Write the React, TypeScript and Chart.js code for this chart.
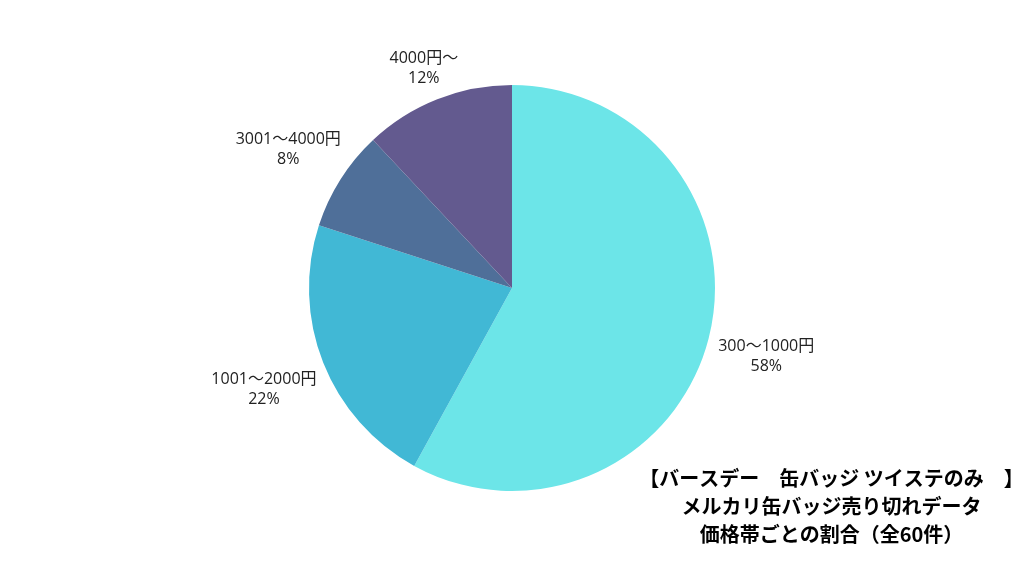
import React, { useEffect, useRef } from "react";
import { Chart, registerables } from "chart.js";

Chart.register(...registerables);

const categories = ["300〜1000円", "1001〜2000円", "3001〜4000円", "4000円〜"];
const shares = [58, 22, 8, 12];
const colors = ["#6ce5e8", "#41b8d5", "#4f6f99", "#635a8f"];
const titleLines = [
  "【バースデー　缶バッジ ツイステのみ　】",
  "メルカリ缶バッジ売り切れデータ",
  "価格帯ごとの割合（全60件）",
];

const LABEL_FONT = '"Open Sans", "Noto Sans CJK JP", sans-serif';
const TITLE_FONT = '"Noto Sans CJK JP", "Noto Sans", sans-serif';

const labelPlugin = {
  id: "outerLabels",
  afterDraw(chart: any) {
    const ctx = chart.ctx;
    const meta = chart.getDatasetMeta(0);
    ctx.save();
    ctx.font = `16px ${LABEL_FONT}`;
    ctx.fillStyle = "#222222";
    ctx.textAlign = "center";
    ctx.textBaseline = "middle";
    meta.data.forEach((arc: any, i: number) => {
      const { x, y, startAngle, endAngle, outerRadius } = arc.getProps(
        ["x", "y", "startAngle", "endAngle", "outerRadius"],
        true
      );
      const mid = (startAngle + endAngle) / 2;
      const dx = Math.cos(mid);
      const dy = Math.sin(mid);
      const l1 = categories[i];
      const l2 = `${shares[i]}%`;
      const halfW = Math.max(ctx.measureText(l1).width, ctx.measureText(l2).width) / 2;
      const halfH = 16;
      const r = outerRadius + 9 + halfW * Math.abs(dx) + halfH * Math.abs(dy);
      const cx = x + dx * r;
      const cy = y + dy * r + 3;
      ctx.fillText(l1, cx, cy - 10);
      ctx.fillText(l2, cx, cy + 10);
    });
    ctx.restore();

    ctx.save();
    ctx.font = `bold 20px ${TITLE_FONT}`;
    ctx.fillStyle = "#000000";
    ctx.textAlign = "center";
    ctx.textBaseline = "middle";
    const tx = chart.width * 0.812;
    titleLines.forEach((t, i) => {
      ctx.fillText(t, tx, chart.height - 98 + i * 28);
    });
    ctx.restore();
  },
};

export default function App() {
  const ref = useRef<HTMLCanvasElement>(null);
  useEffect(() => {
    if (!ref.current) return;
    const chart = new Chart(ref.current, {
      type: "pie",
      data: {
        labels: categories,
        datasets: [
          {
            data: shares,
            backgroundColor: colors,
            borderWidth: 0,
          },
        ],
      },
      options: {
        responsive: false,
        animation: false,
        layout: { padding: { top: 85, bottom: 85, left: 0, right: 0 } },
        plugins: {
          legend: { display: false },
          tooltip: { enabled: false },
          title: { display: false },
        },
      },
      plugins: [labelPlugin],
    });
    return () => chart.destroy();
  }, []);
  return (
    <div style={{ position: "fixed", left: 0, top: 0, width: 1024, height: 576, background: "#fff" }}>
      <canvas ref={ref} width={1024} height={576} style={{ width: 1024, height: 576 }} />
    </div>
  );
}
